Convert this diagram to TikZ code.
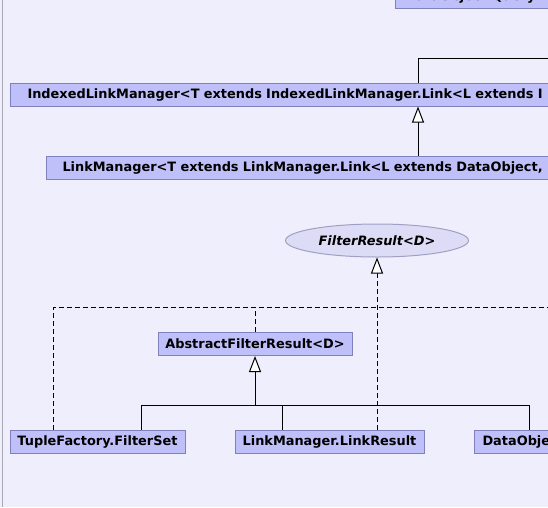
\documentclass[tikz,border=0pt]{standalone}
\usepackage{fontspec}
\setmainfont{DejaVu Sans}
\usetikzlibrary{arrows.meta,shapes.geometric}
\definecolor{cBg}{HTML}{EEEEFC}
\definecolor{cBox}{HTML}{BFBFFA}
\definecolor{cEdge}{HTML}{8080BC}
\definecolor{cIface}{HTML}{DCDCF6}
\definecolor{cRim}{HTML}{A0A0C4}
\definecolor{cFrame}{HTML}{A8A8B4}
\tikzset{
  cls/.style={draw=cEdge,fill=cBox,line width=1pt,minimum height=23pt,inner ysep=0pt,
    font=\fontsize{12.9}{14}\selectfont\bfseries},
  wide/.style={cls,anchor=west,inner xsep=#1,text width=700pt,align=left},
  iface/.style={ellipse,draw=cRim,fill=cIface,line width=1pt,minimum width=183pt,minimum height=33pt,
    inner sep=0pt,font=\fontsize{12.9}{14}\selectfont\bfseries\itshape},
  link/.style={line width=1pt},
  dlink/.style={line width=1pt,dash pattern=on 5pt off 3pt},
  inh/.style={link,-{Triangle[fill=white,length=16pt,width=12pt]}},
  real/.style={dlink,-{Triangle[fill=white,length=16pt,width=12pt]}}}
\begin{document}
\begin{tikzpicture}[x=1pt,y=-1pt]
\useasboundingbox (0,0) rectangle (548,507);
\clip (0,0) rectangle (548,507);
\fill[cBg] (0,0) rectangle (548,507);
\draw[cFrame,line width=1pt] (2.5,0) -- (2.5,507);
% classes
\node[wide=10pt] (top) at (395,-3.5) {DataObject.Query};
\node[wide=17pt] (idx) at (10,94.5) {IndexedLinkManager<T extends IndexedLinkManager.Link<L extends I};
\node[wide=16pt] (lmgr) at (46,167.5) {LinkManager<T extends LinkManager.Link<L extends DataObject,};
\node[iface] (fres) at (377,240.5) {FilterResult<D>};
\node[cls,minimum width=194pt] (afres) at (255,344) {AbstractFilterResult<D>};
\node[cls,minimum width=175pt] (tfset) at (97.5,441.5) {TupleFactory.FilterSet};
\node[cls,minimum width=189pt] (lres) at (329.5,441.5) {LinkManager.LinkResult};
\node[wide=8pt] (dobj) at (474,441.5) {DataObject};
% junctions
\coordinate (jIdx) at (418,58);
\coordinate (offA) at (560,58);
\coordinate (jT) at (53,307);
\coordinate (jF) at (377,307);
\coordinate (offB) at (560,307);
\coordinate (jL) at (141,405);
\coordinate (jA) at (255,405);
\coordinate (jM) at (282,405);
\coordinate (jR) at (529,405);
% edges
\draw[link] (idx.north -| jIdx) -- (jIdx) -- (offA);
\draw[inh] (lmgr.north -| jIdx) -- (idx.south -| jIdx);
\draw[dlink] (tfset.north -| jT) -- (jT) -- (offB);
\draw[dlink] (afres.north) -- (afres.north |- jF);
\draw[real] (lres.north -| jF) -- (fres.south);
\draw[link] (tfset.north -| jL) -- (jL) -- (jR) -- (dobj.north -| jR);
\draw[link] (lres.north -| jM) -- (jM);
\draw[inh] (jA) -- (afres.south);
\end{tikzpicture}
\end{document}
